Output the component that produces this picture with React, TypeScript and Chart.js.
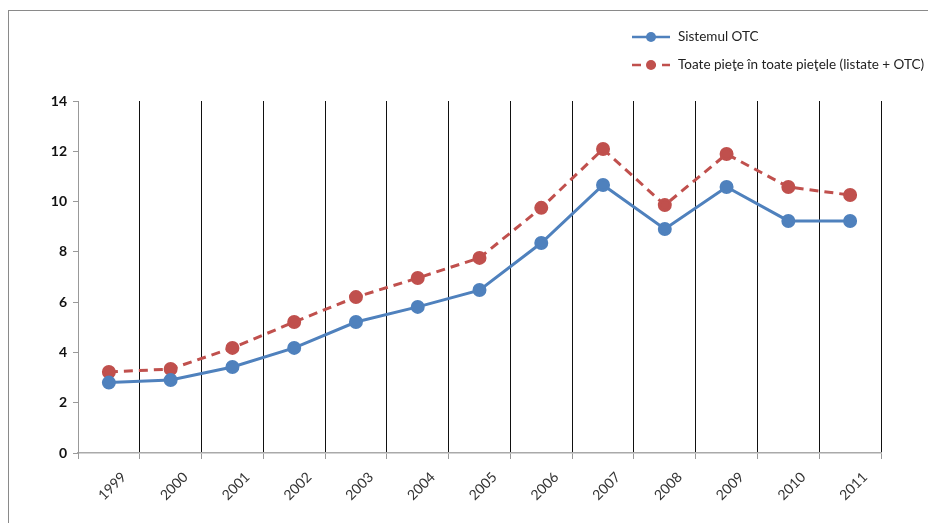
import React, { useEffect, useRef } from "react";
import { Chart, registerables } from "chart.js";

Chart.register(...registerables);

const years = ["1999", "2000", "2001", "2002", "2003", "2004", "2005", "2006", "2007", "2008", "2009", "2010", "2011"];
const sistemulOtc = [2.8, 2.9, 3.42, 4.18, 5.21, 5.81, 6.48, 8.35, 10.66, 8.91, 10.58, 9.23, 9.23];
const toatePietele = [3.22, 3.34, 4.18, 5.21, 6.2, 6.96, 7.76, 9.75, 12.09, 9.86, 11.89, 10.58, 10.26];
const seriesNames = ["Sistemul OTC", "Toate pieţe în toate pieţele (listate + OTC)"];

const BLUE = "#4F81BD";
const RED = "#C0504D";
const FONT = "Lato, 'Open Sans', sans-serif";

// Stacked legend in the top-right corner, drawn from the dataset styles.
const stackedLegend = {
  id: "stackedLegend",
  afterDraw(chart: any) {
    const ctx = chart.ctx;
    const x0 = 632;
    const rows = [37, 65];
    chart.data.datasets.forEach((ds: any, i: number) => {
      const y = rows[i];
      ctx.save();
      ctx.strokeStyle = ds.borderColor;
      ctx.lineWidth = 2.5;
      ctx.setLineDash(ds.borderDash || []);
      ctx.beginPath();
      ctx.moveTo(x0, y);
      ctx.lineTo(x0 + 38, y);
      ctx.stroke();
      ctx.setLineDash([]);
      ctx.fillStyle = ds.pointBackgroundColor;
      ctx.beginPath();
      ctx.arc(x0 + 19, y, 5, 0, Math.PI * 2);
      ctx.fill();
      ctx.fillStyle = "#222";
      ctx.font = `13.5px ${FONT}`;
      ctx.textBaseline = "middle";
      ctx.fillText(ds.label, x0 + 46, y);
      ctx.restore();
    });
  },
};

export default function App() {
  const ref = useRef<HTMLCanvasElement>(null);

  useEffect(() => {
    if (!ref.current) return;
    const chart = new Chart(ref.current, {
      type: "line",
      data: {
        labels: years,
        datasets: [
          {
            label: seriesNames[0],
            data: sistemulOtc,
            borderColor: BLUE,
            backgroundColor: BLUE,
            pointBackgroundColor: BLUE,
            pointBorderColor: BLUE,
            borderWidth: 3,
            pointRadius: 5.5,
            tension: 0,
          },
          {
            label: seriesNames[1],
            data: toatePietele,
            borderColor: RED,
            backgroundColor: RED,
            pointBackgroundColor: RED,
            pointBorderColor: RED,
            borderWidth: 3,
            borderDash: [9, 6],
            pointRadius: 5.5,
            tension: 0,
          },
        ],
      },
      options: {
        animation: false,
        responsive: false,
        layout: { padding: { left: 0, right: 47, top: 101, bottom: 0 } },
        plugins: { legend: { display: false }, tooltip: { enabled: false } },
        scales: {
          x: {
            offset: true,
            grid: {
              offset: true,
              color: (c: any) => (c.index === 0 ? "rgba(0,0,0,0)" : "#111"),
              lineWidth: 1,
              drawTicks: true,
              tickLength: 6,
              tickColor: "#999",
            },
            border: { color: "#aaa", width: 1.5 },
            ticks: {
              maxRotation: 45,
              minRotation: 45,
              color: "#333",
              font: { family: FONT, size: 14 },
              labelOffset: 15,
              padding: 10,
            },
            afterFit: (s: any) => {
              s.height = 70;
            },
          },
          y: {
            min: 0,
            max: 14,
            ticks: {
              stepSize: 2,
              color: "#111",
              font: { family: FONT, size: 14, weight: "bold" },
              padding: 6,
            },
            grid: {
              drawOnChartArea: false,
              drawTicks: true,
              tickLength: 5,
              tickColor: "#999",
            },
            border: { color: "#999", width: 1 },
            afterFit: (s: any) => {
              s.width = 78;
            },
          },
        },
      },
      plugins: [stackedLegend],
    });
    return () => chart.destroy();
  }, []);

  return (
    <div style={{ position: "fixed", left: 0, top: 0, width: 928, height: 523, background: "#fff", overflow: "hidden" }}>
      <div
        style={{
          position: "absolute",
          left: 8,
          top: 10,
          width: 940,
          height: 540,
          border: "1px solid #8a8a8a",
          boxSizing: "border-box",
        }}
      />
      <canvas ref={ref} width={928} height={523} style={{ position: "absolute", left: 0, top: 0 }} />
    </div>
  );
}
